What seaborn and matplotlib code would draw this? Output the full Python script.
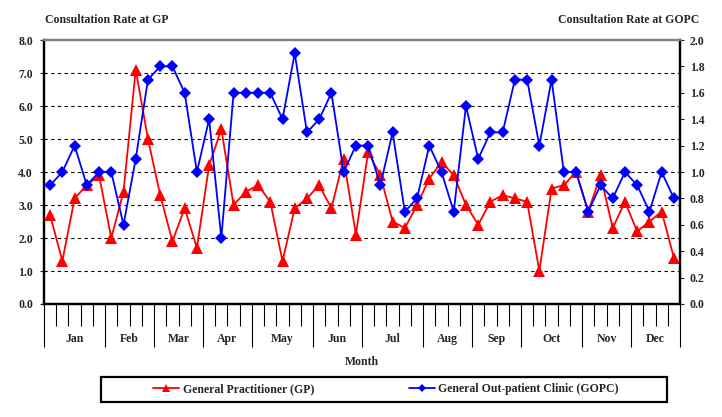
import numpy as np
import pandas as pd
import seaborn as sns
import matplotlib.pyplot as plt
from matplotlib.lines import Line2D
from matplotlib.patches import Rectangle

sns.set_style("white")
plt.rcParams.update({"font.family": ["Liberation Serif", "DejaVu Serif"],
                     "font.weight": "bold",
                     "font.size": 8.5})

months = ["Jan", "Feb", "Mar", "Apr", "May", "Jun", "Jul", "Aug", "Sep", "Oct", "Nov", "Dec"]
weeks_per_month = [5, 4, 4, 4, 5, 4, 5, 4, 4, 5, 4, 4]
gp = [2.7, 1.3, 3.2, 3.6, 3.9, 2.0, 3.4, 7.1, 5.0, 3.3,
      1.9, 2.9, 1.7, 4.2, 5.3, 3.0, 3.4, 3.6, 3.1, 1.3,
      2.9, 3.2, 3.6, 2.9, 4.4, 2.1, 4.6, 3.9, 2.5, 2.3,
      3.0, 3.8, 4.3, 3.9, 3.0, 2.4, 3.1, 3.3, 3.2, 3.1,
      1.0, 3.5, 3.6, 4.0, 2.8, 3.9, 2.3, 3.1, 2.2, 2.5,
      2.8, 1.4]
gopc = [0.9, 1.0, 1.2, 0.9, 1.0, 1.0, 0.6, 1.1, 1.7, 1.8,
        1.8, 1.6, 1.0, 1.4, 0.5, 1.6, 1.6, 1.6, 1.6, 1.4,
        1.9, 1.3, 1.4, 1.6, 1.0, 1.2, 1.2, 0.9, 1.3, 0.7,
        0.8, 1.2, 1.0, 0.7, 1.5, 1.1, 1.3, 1.3, 1.7, 1.7,
        1.2, 1.7, 1.0, 1.0, 0.7, 0.9, 0.8, 1.0, 0.9, 0.7,
        1.0, 0.8]

df = pd.DataFrame({"week": np.arange(len(gp)) + 0.5, "gp": gp, "gopc": gopc})

fig = plt.figure(figsize=(7.22, 4.17), dpi=100)
ax = fig.add_axes([44/722, 1-304/417, 636/722, 264/417])
ax2 = ax.twinx()

sns.lineplot(data=df, x="week", y="gp", ax=ax, color="#ff0000", marker="^",
             markersize=8, markeredgewidth=0, linewidth=1.3, zorder=3)
sns.lineplot(data=df, x="week", y="gopc", ax=ax2, color="#0000ff", marker="D",
             markersize=6.5, markeredgewidth=0, linewidth=1.3, zorder=3)

ax.set_xlim(0, 52)
ax.set_ylim(0, 8)
ax2.set_ylim(0, 2)
ax.set_yticks(np.arange(0, 8.1, 1))
ax.set_yticklabels([f"{v:.1f}" for v in np.arange(0, 8.1, 1)])
ax2.set_yticks(np.arange(0, 2.01, 0.2))
ax2.set_yticklabels([f"{v:.1f}" for v in np.arange(0, 2.01, 0.2)])
for v in range(1, 8):
    ax.axhline(v, color="black", linestyle=(0, (3, 3)), linewidth=0.8, zorder=1)

bounds = np.concatenate([[0], np.cumsum(weeks_per_month)])
ax.set_xticks(bounds)
ax.set_xticklabels([])
ax.set_xticks(np.arange(0, 53), minor=True)
ax.tick_params(axis="x", which="major", bottom=True, length=31, width=0.8,
               direction="out", color="black")
ax.tick_params(axis="x", which="minor", bottom=True, length=16, width=0.8,
               direction="out", color="black")
ax.tick_params(axis="y", length=3, width=0.8, pad=5, labelsize=8.5, direction="out", left=True)
ax2.tick_params(axis="y", length=3, width=0.8, pad=4, labelsize=8.5, direction="out", right=True)
ax.set_xlabel("")
ax.set_ylabel("")
ax2.set_ylabel("")
ax.grid(False)
ax2.grid(False)

for a in (ax, ax2):
    a.spines["top"].set_color("#808080")
    a.spines["top"].set_linewidth(1.6)
    for s in ("left", "right", "bottom"):
        a.spines[s].set_color("black")
        a.spines[s].set_linewidth(1.6)

mids = (bounds[:-1] + bounds[1:]) / 2
for m, x in zip(months, mids):
    ax.annotate(m, xy=(x, 0), xycoords=("data", "axes fraction"), xytext=(0, -25),
                textcoords="offset points", ha="center", va="center", fontsize=8.5)

fig.text(362/722, 1-362/417, "Month", ha="center", va="center", fontsize=8.5)
fig.text(45/722, 1-20/417, "Consultation Rate at GP", ha="left", va="center", fontsize=8.5)
fig.text(699/722, 1-20/417, "Consultation Rate at GOPC", ha="right", va="center", fontsize=8.5)

handles = [Line2D([], [], color="#ff0000", marker="^", markersize=6, markeredgewidth=0, linewidth=1.3),
           Line2D([], [], color="#0000ff", marker="D", markersize=4.5, markeredgewidth=0, linewidth=1.3)]
leg = fig.legend(handles, ["General Practitioner (GP)", "General Out-patient Clinic (GOPC)"],
                 loc="center", bbox_to_anchor=(386/722, 1-389/417), ncol=2,
                 frameon=False, fontsize=8.5, handlelength=2.2,
                 handletextpad=0.3, columnspacing=8.0)
fig.patches.append(Rectangle((101/722, 1-402/417), 566/722, 25/417, transform=fig.transFigure,
                             fill=False, edgecolor="black", linewidth=1.6))

fig.savefig("out.png", dpi=100)
